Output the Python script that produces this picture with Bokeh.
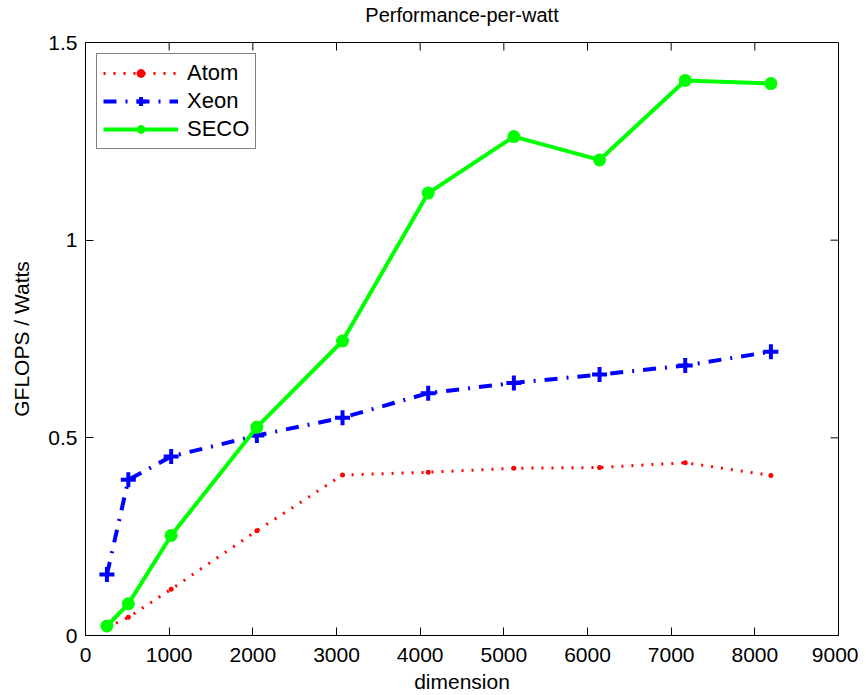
import math
from bokeh.plotting import figure
from bokeh.models import FixedTicker, Range1d, Legend, LegendItem, Title
from bokeh.embed import file_html
from bokeh.resources import INLINE

# ---- data ----
dimension = [256, 512, 1024, 2048, 3072, 4096, 5120, 6144, 7168, 8192]
atom = [0.020, 0.046, 0.117, 0.265, 0.406, 0.413, 0.423, 0.425, 0.437, 0.405]
xeon = [0.154, 0.394, 0.453, 0.506, 0.551, 0.613, 0.639, 0.660, 0.683, 0.718]
seco = [0.024, 0.080, 0.253, 0.527, 0.745, 1.119, 1.262, 1.203, 1.404, 1.396]
x_ticks = [0, 1000, 2000, 3000, 4000, 5000, 6000, 7000, 8000, 9000]
y_ticks = [0, 0.5, 1, 1.5]
y_tick_labels = ["0", "0.5", "1", "1.5"]
x_min, x_max = 0, 9000
y_min, y_max = 0, 1.5
title_text = "Performance-per-watt"

FONT = "Liberation Sans"

p = figure(
    frame_width=753, frame_height=593,
    x_range=Range1d(x_min, x_max), y_range=Range1d(y_min, y_max),
    output_backend="svg", toolbar_location=None,
    min_border_left=85, min_border_right=20, min_border_top=42, min_border_bottom=53,
    title=title_text,
)
p.background_fill_color = "white"
p.border_fill_color = "white"
p.outline_line_color = "black"
p.outline_line_width = 1
p.xgrid.visible = False
p.ygrid.visible = False

p.title.align = "center"
p.title.text_font = FONT
p.title.text_font_style = "normal"
p.title.text_font_size = "20px"
p.title.text_color = "black"
p.title.standoff = 2

# blank spacer between the box and the title, lifting the title up
p.add_layout(Title(text=" ", text_font=FONT, text_font_size="12px", standoff=0), "above")

def style_axis(ax):
    ax.major_tick_in = 8
    ax.major_tick_out = 0
    ax.minor_tick_in = 0
    ax.minor_tick_out = 0
    ax.axis_line_color = "black"
    ax.major_tick_line_color = "black"
    ax.major_label_text_font = FONT
    ax.major_label_text_color = "black"
    ax.major_label_text_font_size = "21px"
    ax.axis_label_text_font = FONT
    ax.axis_label_text_font_style = "normal"
    ax.axis_label_text_color = "black"
    ax.axis_label_text_font_size = "21px"

xax = p.xaxis[0]
xax.ticker = FixedTicker(ticks=x_ticks)
xax.axis_label = "dimension"
style_axis(xax)
xax.major_label_standoff = 12
xax.axis_label_standoff = 5

yax = p.yaxis[0]
yax.ticker = FixedTicker(ticks=y_ticks)
yax.major_label_overrides = {t: l for t, l in zip(y_ticks, y_tick_labels)}
yax.axis_label = "GFLOPS / Watts"
style_axis(yax)
yax.major_label_standoff = 8
yax.axis_label_standoff = 12

# inward ticks on the top and right edges of the box
p.ray(x=x_ticks, y=[y_max] * len(x_ticks), length=8, length_units="screen",
      angle=-math.pi / 2, line_color="black", line_width=1)
p.ray(x=[x_max] * len(y_ticks), y=y_ticks, length=8, length_units="screen",
      angle=math.pi, line_color="black", line_width=1)

# Atom: red dotted with small dots
a_line = p.line(dimension, atom, line_color="#ff0000", line_width=3, line_dash="2 8")
a_pts = p.scatter(dimension, atom, marker="circle", size=5, fill_color="#ff0000", line_color=None)

# Xeon: blue dash-dot with plus markers
x_line = p.line(dimension, xeon, line_color="#0000ff", line_width=4, line_dash="13 9 2 9")
x_pts = p.scatter(dimension, xeon, marker="cross", size=15, line_color="#0000ff", line_width=4)

# SECO: green solid with circles
s_line = p.line(dimension, seco, line_color="#00ff00", line_width=4)
s_pts = p.scatter(dimension, seco, marker="circle", size=13, fill_color="#00ff00", line_color=None)

legend = Legend(items=[
    LegendItem(label="Atom", renderers=[a_line, a_pts]),
    LegendItem(label="Xeon", renderers=[x_line, x_pts]),
    LegendItem(label="SECO", renderers=[s_line, s_pts]),
], location="top_left")
legend.margin = 11
legend.padding = 6
legend.spacing = 2
legend.glyph_width = 75
legend.glyph_height = 22
legend.label_height = 22
legend.label_standoff = 9
legend.label_text_font = FONT
legend.label_text_font_size = "22px"
legend.label_text_color = "black"
legend.border_line_color = "black"
legend.border_line_width = 1
legend.background_fill_color = "white"
legend.background_fill_alpha = 1
p.add_layout(legend, "center")

open("out.html", "w").write(file_html(p, INLINE))
